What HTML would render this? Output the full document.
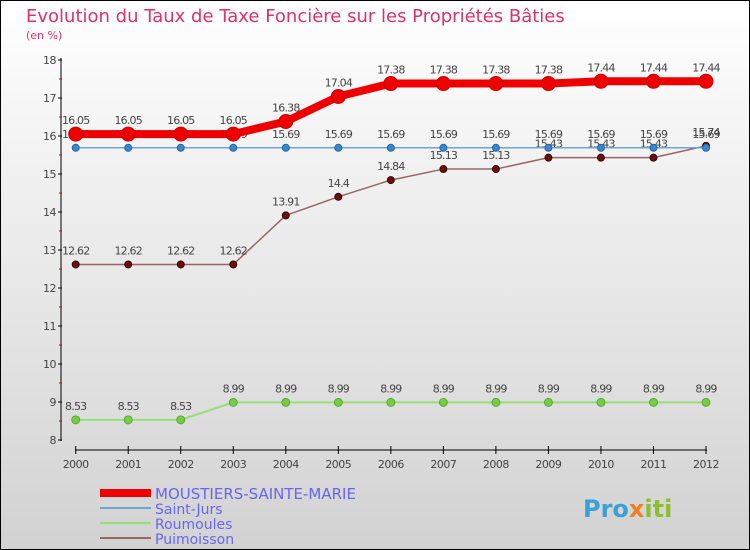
<!DOCTYPE html>
<html><head><meta charset="utf-8"><style>
body{margin:0;}
#wrap{width:750px;height:550px;position:relative;overflow:hidden;font-family:"DejaVu Sans","Liberation Sans",sans-serif;}
</style></head><body>
<div id="wrap">
<svg id="svg" width="750" height="550" xmlns="http://www.w3.org/2000/svg">
<defs><linearGradient id="bg" x1="0" y1="0" x2="0" y2="1"><stop offset="0" stop-color="#ffffff"/><stop offset="1" stop-color="#d2d2d2"/></linearGradient></defs>
<rect x="0.5" y="0.5" width="749" height="549" fill="url(#bg)" stroke="#000"/>
<text x="26" y="22" font-size="18" fill="#e0306a">Evolution du Taux de Taxe Foncière sur les Propriétés Bâties</text>
<text x="26" y="39" font-size="11" fill="#e0306a">(en %)</text>
<g id="axes"></g>
<g id="series"></g>
<g>
<rect x="100" y="489" width="51" height="8" fill="#ee0000"/>
<text x="155" y="499" font-size="15" fill="#6666ee">MOUSTIERS-SAINTE-MARIE</text>
<line x1="100" y1="508" x2="151" y2="508" stroke="#6fa5d0" stroke-width="2"/>
<text x="155" y="514" font-size="14" fill="#6666ee">Saint-Jurs</text>
<line x1="100" y1="523" x2="151" y2="523" stroke="#99dd77" stroke-width="2"/>
<text x="155" y="529" font-size="14" fill="#6666ee">Roumoules</text>
<line x1="100" y1="538" x2="151" y2="538" stroke="#996666" stroke-width="2"/>
<text x="155" y="544" font-size="14" fill="#6666ee">Puimoisson</text>
</g>
<g>
<text x="583" y="517" font-size="24" font-weight="bold" fill="#3aa0d8">Pro<tspan fill="#f08020">x</tspan><tspan fill="#8ac030">iti</tspan></text>
</g>
</svg>
</div>
<script>
const years=[2000,2001,2002,2003,2004,2005,2006,2007,2008,2009,2010,2011,2012];
const yTicks=[8,9,10,11,12,13,14,15,16,17,18];
const moustiers=[16.05,16.05,16.05,16.05,16.38,17.04,17.38,17.38,17.38,17.38,17.44,17.44,17.44];
const saintJurs=[15.69,15.69,15.69,15.69,15.69,15.69,15.69,15.69,15.69,15.69,15.69,15.69,15.69];
const roumoules=[8.53,8.53,8.53,8.99,8.99,8.99,8.99,8.99,8.99,8.99,8.99,8.99,8.99];
const puimoisson=[12.62,12.62,12.62,12.62,13.91,14.4,14.84,15.13,15.13,15.43,15.43,15.43,15.74];
const NS="http://www.w3.org/2000/svg";
const X=i=>75.7+(706-75.7)*i/(years.length-1);
const Y=v=>440-(v-8)*38;
function mk(tag,attrs,parent,txt){const e=document.createElementNS(NS,tag);for(const k in attrs)e.setAttribute(k,attrs[k]);if(txt!==undefined)e.textContent=txt;parent.appendChild(e);return e;}
const axes=document.getElementById('axes');
let a=mk('line',{x1:61,y1:58,x2:61,y2:441,stroke:'#000','stroke-width':1},axes);


a=mk('line',{x1:75,y1:450,x2:707,y2:450,stroke:'#000','stroke-width':1},axes);


yTicks.forEach(v=>{
 mk('line',{x1:58,y1:Y(v),x2:62,y2:Y(v),stroke:'#000'},axes);
 if(v<18)mk('line',{x1:59,y1:Y(v+0.5),x2:62,y2:Y(v+0.5),stroke:'#d00'},axes);
 const t=mk('text',{x:56,y:Y(v)+4,'font-size':11,'text-anchor':'end',fill:'#444','letter-spacing':'-0.5'},axes,String(v));
 
 
});
years.forEach((yr,i)=>{
 mk('line',{x1:X(i),y1:446,x2:X(i),y2:454,stroke:'#000'},axes);
 const t=mk('text',{x:X(i),y:468,'font-size':11,'text-anchor':'middle',fill:'#444','letter-spacing':'-0.5'},axes,String(yr));
 
 
});
const series=document.getElementById('series');
function draw(name,vals,color,w,r,dot,dotStroke){
 const g=mk('g',{},series);
 
 
 const p=mk('polyline',{points:vals.map((v,i)=>X(i)+','+Y(v)).join(' '),fill:'none',stroke:color,'stroke-width':w,'stroke-linejoin':'round'},g);
 
 
 vals.forEach((v,i)=>{
  const c=mk('circle',{cx:X(i),cy:Y(v),r:r,fill:dot,stroke:dotStroke,'stroke-width':1},g);
  
  
  const t=mk('text',{x:X(i),y:Y(v)-10,'font-size':11,'text-anchor':'middle',fill:'#444','letter-spacing':'-0.8'},g,String(v));
  
  
 });
}
draw('roumoules',roumoules,'#99dd77',2,4,'#77cc44','#55aa33');
draw('puimoisson',puimoisson,'#996666',1.5,3.5,'#661111','#440000');
draw('saint-jurs',saintJurs,'#6fa5d0',1.5,3.5,'#3a88cc','#2266aa');
draw('moustiers',moustiers,'#ee0000',8,7,'#ee0000','#cc0000');
</script>
</body></html>
